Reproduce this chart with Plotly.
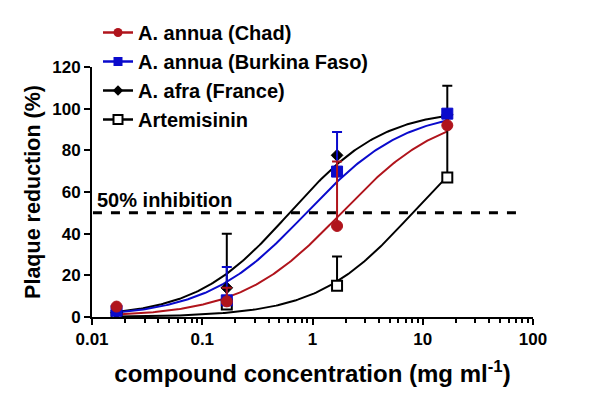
import numpy as np
import plotly.graph_objects as go

# Data
conc = [0.0167, 0.167, 1.67, 16.7]
chad = [5, 7.5, 43.7, 92]
chad_err = [0, 6.5, 31, 0]
burkina = [3, 8, 69.8, 97.6]
burkina_err = [0, 16, 19, 0]
afra = [2, 14, 77.6, 97]
afra_err = [0, 26, 0, 0]
artem = [0.5, 6, 15, 67]
artem_err = [0, 0, 14, 44]

# Hill fit parameters (EC50, slope) per series
ec50 = {"chad": 1.83, "burkina": 0.88, "afra": 0.62, "artem": 8.1}
hill = {"chad": 0.95, "burkina": 0.96, "afra": 1.02, "artem": 1.0}

names = ["A. annua (Chad)", "A. annua (Burkina Faso)", "A. afra (France)", "Artemisinin"]
x_ticks = [0.01, 0.1, 1, 10, 100]
x_ticktext = ["0.01", "0.1", "1", "10", "100"]

RED = "#B0141C"
BLUE = "#0A0ACC"
BLACK = "#000000"
FAM = "Liberation Sans, Arial"

W, H = 593, 409
L, R, B = 92, 60, 92
PLOT_TOP = 67
paper_h = H - B
paper_w = W - L - R
fig = go.Figure()

xs = np.logspace(np.log10(conc[0]), np.log10(conc[-1]), 200)
def curve(key):
    return 100.0 / (1.0 + (ec50[key] / xs) ** hill[key])

series = [
    ("artem", artem, artem_err, BLACK),
    ("afra", afra, afra_err, BLACK),
    ("burkina", burkina, burkina_err, BLUE),
    ("chad", chad, chad_err, RED),
]
markers = {
    "artem": dict(symbol="square", size=10, color="white", line=dict(color=BLACK, width=2)),
    "afra": dict(symbol="diamond", size=9, color=BLACK, line=dict(color=BLACK, width=1)),
    "burkina": dict(symbol="square", size=11, color=BLUE, line=dict(color=BLUE, width=1)),
    "chad": dict(symbol="circle", size=11, color=RED, line=dict(color=RED, width=1)),
}

for key, y, err, col in series:
    fig.add_trace(go.Scatter(x=xs, y=curve(key), mode="lines",
                             line=dict(color=col, width=2), showlegend=False,
                             hoverinfo="skip"))
for key, y, err, col in series:
    fig.add_trace(go.Scatter(x=conc, y=y, mode="markers", marker=markers[key],
                             error_y=dict(type="data", array=err, arrayminus=[0]*4,
                                          symmetric=False, color=col, thickness=2, width=5),
                             showlegend=False))

# legend entries
leg = [
    (names[0], RED, dict(symbol="circle", size=9, color=RED)),
    (names[1], BLUE, dict(symbol="square", size=9, color=BLUE)),
    (names[2], BLACK, dict(symbol="diamond", size=8, color=BLACK)),
    (names[3], BLACK, dict(symbol="square", size=9, color="white", line=dict(color=BLACK, width=2))),
]
for n, col, mk in leg:
    fig.add_trace(go.Scatter(x=[None], y=[None], mode="lines+markers", name=n,
                             line=dict(color=col, width=2.5), marker=mk))

fig.add_shape(type="line", xref="x", yref="y", x0=0.0102, x1=80, y0=50, y1=50,
              line=dict(color="black", width=3, dash="dash"))
fig.add_annotation(x=np.log10(0.0106), y=50, xref="x", yref="y", text="<b>50% inhibition</b>",
                   showarrow=False, xanchor="left", yanchor="middle", yshift=13,
                   font=dict(size=20, color="black", family=FAM))

fig.update_layout(
    width=W, height=H,
    margin=dict(l=L, r=R, t=0, b=B, autoexpand=False),
    paper_bgcolor="white", plot_bgcolor="white",
    font=dict(family=FAM, color="black"),
    showlegend=True,
    legend=dict(x=6 / paper_w, y=1.0 - 13 / paper_h, xanchor="left", yanchor="top",
                font=dict(size=20, family=FAM, color="black", weight="bold"),
                bgcolor="rgba(0,0,0,0)", tracegroupgap=0, itemwidth=30),
    xaxis=dict(type="log", range=[-2, 2], showline=True, linecolor="black", linewidth=2,
               ticks="outside", ticklen=6, tickwidth=2, tickcolor="black",
               tickvals=x_ticks, ticktext=x_ticktext, automargin=False,
               tickfont=dict(size=17, weight="bold"), showgrid=False, zeroline=False,
               minor=dict(ticks="outside", ticklen=4, tickwidth=1.5, tickcolor="black",
                          tickvals=[m * d for d in [0.01, 0.1, 1, 10] for m in range(2, 10)],
                          showgrid=False),
               title=dict(text="<b>compound concentration (mg ml<sup>-1</sup>)</b>",
                          font=dict(size=24), standoff=17)),
    yaxis=dict(range=[0, 120], showline=True, linecolor="black", linewidth=2,
               domain=[0, (paper_h - PLOT_TOP) / paper_h], automargin=False,
               ticks="outside", ticklen=6, tickwidth=2, tickcolor="black",
               dtick=20, tickfont=dict(size=17, weight="bold"), showgrid=False, zeroline=False,
               title=dict(text="<b>Plaque reduction (%)</b>", font=dict(size=21.5), standoff=6)),
)
fig.write_html("out.html", config={"displayModeBar": False},
               post_script="document.body.style.margin='0';")
